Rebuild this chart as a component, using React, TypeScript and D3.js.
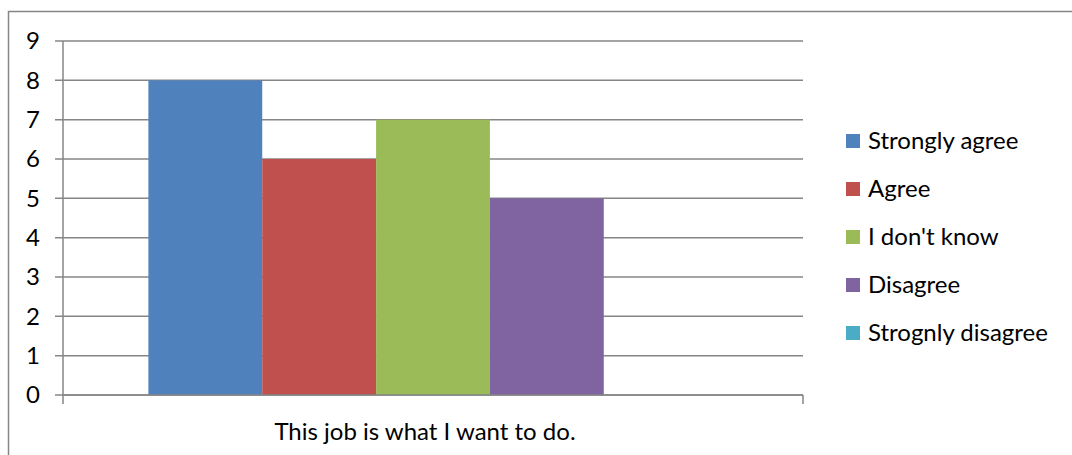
import React from "react";
import * as d3 from "d3";

const categories = ["This job is what I want to do."];
const seriesNames = ["Strongly agree", "Agree", "I don't know", "Disagree", "Strognly disagree"];
const seriesValues = [8, 6, 7, 5, 0];
const seriesColors = ["#4F81BD", "#C0504D", "#9BBB59", "#8064A2", "#4BACC6"];
const yTicks = [0, 1, 2, 3, 4, 5, 6, 7, 8, 9];

export default function App() {
  const W = 1072, H = 455;
  const left = 63, right = 803, top = 41, bottom = 395;
  const font = "Lato, 'Open Sans', sans-serif";
  const fs = 24;
  const y = d3.scaleLinear().domain([0, 9]).range([bottom, top]);
  const x0 = d3.scaleBand().domain(categories).range([left, right]);
  const inner = d3.scaleBand().domain(seriesNames).range([0, x0.bandwidth()]).paddingInner(0).paddingOuter(0.75);
  const grid = "#868686";
  return (
    <svg width={W} height={H} style={{ position: "absolute", left: 0, top: 0 }}>
      <rect x={8.5} y={11.5} width={W} height={H} fill="#fff" stroke={grid} strokeWidth={1.5} />
      {yTicks.map((t) => (
        <g key={t}>
          <line x1={55} x2={right} y1={y(t)} y2={y(t)} stroke={grid} strokeWidth={1.5} />
          <text x={40} y={y(t)} dy="0.35em" textAnchor="end" fontFamily={font} fontSize={fs} fill="#000">{t}</text>
        </g>
      ))}
      {categories.map((c) =>
        seriesNames.map((s, i) => (
          <rect key={s} x={x0(c)! + inner(s)!} y={y(seriesValues[i])} width={inner.bandwidth()} height={bottom - y(seriesValues[i])} fill={seriesColors[i]} />
        ))
      )}
      <line x1={left} x2={left} y1={top} y2={bottom + 9} stroke={grid} strokeWidth={1.5} />
      <line x1={left} x2={right} y1={bottom} y2={bottom} stroke={grid} strokeWidth={1.5} />
      <line x1={right} x2={right} y1={bottom} y2={bottom + 9} stroke={grid} strokeWidth={1.5} />
      {categories.map((c) => (
        <text key={c} x={x0(c)! + x0.bandwidth() / 2 - 8} y={440} textAnchor="middle" fontFamily={font} fontSize={fs} fill="#000">{c}</text>
      ))}
      {seriesNames.map((s, i) => (
        <g key={s} transform={`translate(846, ${141 + i * 48})`}>
          <rect x={0} y={-7} width={14} height={14} fill={seriesColors[i]} />
          <text x={22} y={0} dy="0.35em" fontFamily={font} fontSize={fs} fill="#000">{s}</text>
        </g>
      ))}
    </svg>
  );
}
